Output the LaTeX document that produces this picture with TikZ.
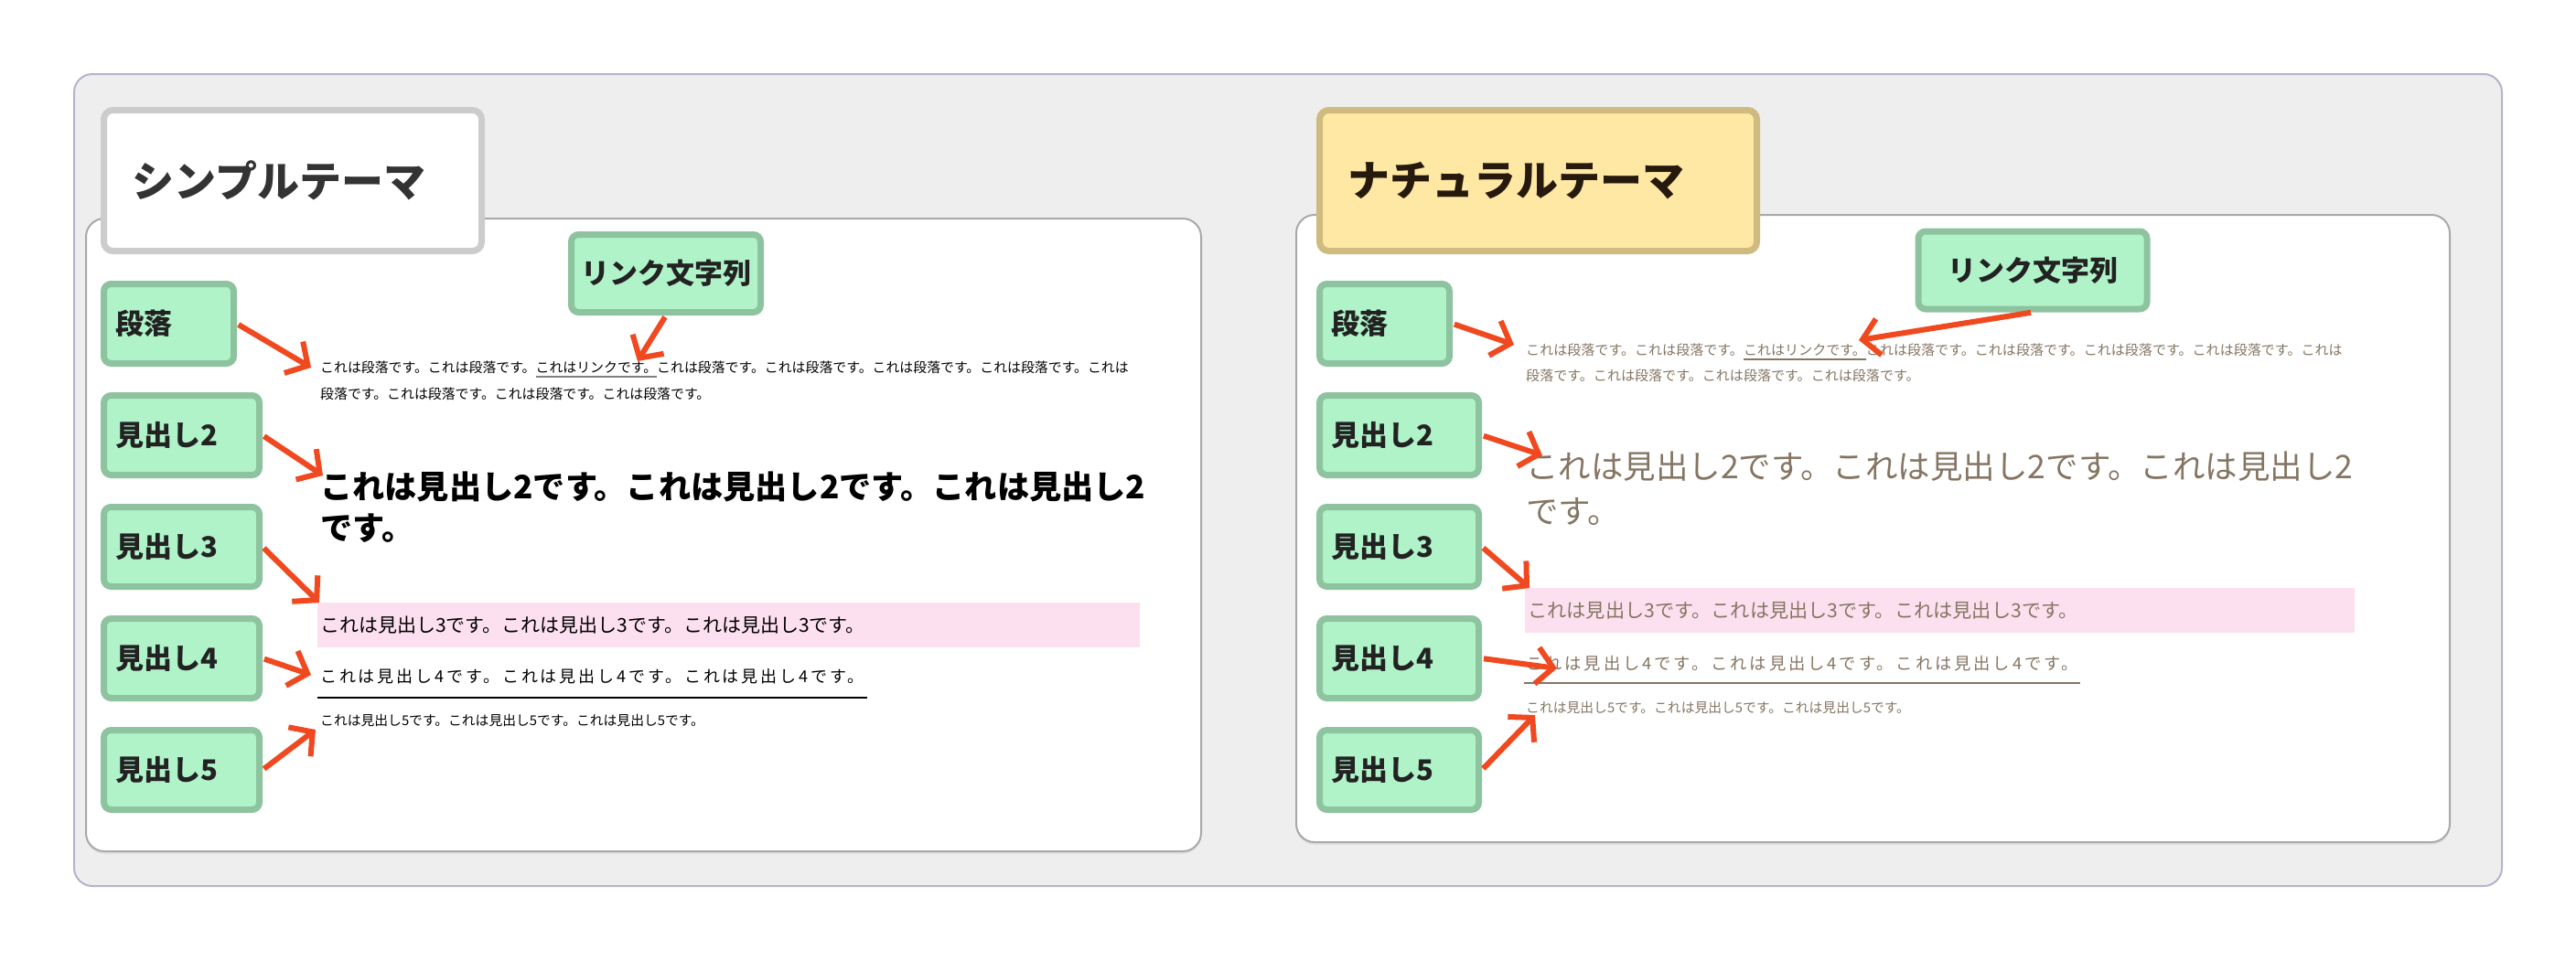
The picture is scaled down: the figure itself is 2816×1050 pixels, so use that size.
\documentclass[tikz,border=0pt]{standalone}
\usepackage{fontspec}
\setmainfont{Noto Sans CJK JP}
\newfontfamily\spacedjp[LetterSpace=16]{Noto Sans CJK JP}
\usetikzlibrary{arrows.meta, positioning, shadows}

\definecolor{frameback}{HTML}{EEEEEE}
\definecolor{frameline}{HTML}{B8B2CC}
\definecolor{panelline}{HTML}{A9A9A9}
\definecolor{simpleedge}{HTML}{CCCCCC}
\definecolor{naturalfill}{HTML}{FFE8A3}
\definecolor{naturaledge}{HTML}{CFBB80}
\definecolor{tagfill}{HTML}{B0F3C9}
\definecolor{tagedge}{HTML}{8EC39F}
\definecolor{tagink}{HTML}{222222}
\definecolor{titleink}{HTML}{333333}
\definecolor{natink}{HTML}{857563}
\definecolor{bandpink}{HTML}{FDE0EF}
\definecolor{pointred}{HTML}{F0481F}

\newsavebox{\lnkbox}
\newcommand{\lnk}[2]{\sbox{\lnkbox}{#2}\rlap{\color{#1}\rule[-5pt]{\wd\lnkbox}{1.5pt}}\usebox{\lnkbox}}

\begin{document}
\begin{tikzpicture}[
    x=1pt, y=-1pt,
    node distance=28pt,
    frame/.style={fill=frameback, draw=frameline, line width=2pt, rounded corners=20pt},
    panel/.style={fill=white, draw=panelline, line width=2pt, rounded corners=20pt, drop shadow={shadow xshift=0pt, shadow yshift=-3pt, opacity=.12}},
    titlebox/.style={rectangle, fill=white, draw=simpleedge, line width=7pt, rounded corners=10pt, inner xsep=31pt, minimum height=154pt, align=left, text=titleink, font=\fontsize{46pt}{54pt}\selectfont\bfseries},
    tag/.style={rectangle, fill=tagfill, draw=tagedge, line width=7pt, rounded corners=8pt, inner xsep=13pt, minimum height=87pt, align=left, text=tagink, font=\fontsize{31pt}{36pt}\selectfont\bfseries},
    linktag/.style={tag, inner xsep=10pt, minimum height=85pt, align=center},
    bodytext/.style={inner sep=0pt, align=left},
    band/.style={rectangle, fill=bandpink, inner xsep=3pt, inner ysep=0pt, minimum height=49pt, align=left},
    pointer/.style={-{Straight Barb[length=18pt, width=40pt]}, line width=6pt, draw=pointred, shorten <=2pt}
]
\useasboundingbox[fill=white] (0,0) rectangle (2816,1050);

\draw[frame] (81,81) rectangle (2735,969);
\draw[panel] (94,239) rectangle (1313,931);
\draw[panel] (1417,235) rectangle (2678,921);

% simple theme
\node[titlebox, anchor=north west, text width=351pt] (titleL) at (110,117) {シンプルテーマ};

\node[tag, anchor=north west, text width=116pt] (gParaL) at (110,307) {段落};
\node[tag, text width=144pt, below=of gParaL.south west, anchor=north west] (gH2L) {見出し2};
\node[tag, text width=144pt, below=of gH2L.south west, anchor=north west] (gH3L) {見出し3};
\node[tag, text width=144pt, below=of gH3L.south west, anchor=north west] (gH4L) {見出し4};
\node[tag, text width=144pt, below=of gH4L.south west, anchor=north west] (gH5L) {見出し5};
\node[linktag, text width=187pt] (gLinkL) at (728,299) {リンク文字列};

\node[bodytext, anchor=base west, font=\fontsize{14.9pt}{29pt}\selectfont] (tParaL) at (350,436.6)
  {これは段落です。これは段落です。\lnk{gray}{これはリンクです。}これは段落です。これは段落です。これは段落です。これは段落です。これは\\
   段落です。これは段落です。これは段落です。これは段落です。};
\node[bodytext, anchor=base west, font=\fontsize{35.2pt}{45pt}\selectfont\bfseries] (tH2L) at (350,590.5)
  {これは見出し2です。これは見出し2です。これは見出し2\\です。};
\node[band, anchor=north west, text width=893pt, font=\fontsize{21pt}{25pt}\selectfont] (tH3L) at (347,659)
  {これは見出し3です。これは見出し3です。これは見出し3です。};
\node[anchor=west, inner xsep=3pt, inner ysep=0pt, minimum height=46pt, font=\spacedjp\fontsize{18pt}{22pt}\selectfont] (tH4L) at (347,740)
  {これは見出し4です。これは見出し4です。これは見出し4です。};
\draw[line width=2pt] (tH4L.south west) -- (tH4L.south east);
\node[bodytext, anchor=west, font=\fontsize{14.8pt}{18pt}\selectfont] (tH5L) at (350,788)
  {これは見出し5です。これは見出し5です。これは見出し5です。};

% natural theme
\node[titlebox, fill=naturalfill, draw=naturaledge, text=black!80!brown, anchor=north west, text width=416pt] (titleR) at (1439,117) {ナチュラルテーマ};

\node[tag, anchor=north west, text width=116pt] (gParaR) at (1439,307) {段落};
\node[tag, text width=148pt, below=of gParaR.south west, anchor=north west] (gH2R) {見出し2};
\node[tag, text width=148pt, below=of gH2R.south west, anchor=north west] (gH3R) {見出し3};
\node[tag, text width=148pt, below=of gH3R.south west, anchor=north west] (gH4R) {見出し4};
\node[tag, text width=148pt, below=of gH4R.south west, anchor=north west] (gH5R) {見出し5};
\node[linktag, text width=230pt] (gLinkR) at (2222,295.5) {リンク文字列};

\node[bodytext, anchor=base west, text=natink, font=\fontsize{15.05pt}{28pt}\selectfont] (tParaR) at (1668,416.7)
  {これは段落です。これは段落です。\lnk{natink}{これはリンクです。}これは段落です。これは段落です。これは段落です。これは段落です。これは\\
   段落です。これは段落です。これは段落です。これは段落です。};
\node[bodytext, anchor=base west, text=natink, font=\fontsize{35.5pt}{49pt}\selectfont] (tH2R) at (1668,572.5)
  {これは見出し2です。これは見出し2です。これは見出し2\\です。};
\node[band, anchor=north west, text width=901pt, text=natink, font=\fontsize{21.2pt}{25pt}\selectfont] (tH3R) at (1667,643)
  {これは見出し3です。これは見出し3です。これは見出し3です。};
\node[anchor=west, inner xsep=2pt, inner ysep=0pt, minimum height=42pt, text=natink, font=\spacedjp\fontsize{18.3pt}{22pt}\selectfont] (tH4R) at (1666,726)
  {これは見出し4です。これは見出し4です。これは見出し4です。};
\draw[line width=2pt, natink] (tH4R.south west) -- (tH4R.south east);
\node[bodytext, anchor=west, text=natink, font=\fontsize{14.8pt}{18pt}\selectfont] (tH5R) at (1668,774)
  {これは見出し5です。これは見出し5です。これは見出し5です。};

\coordinate (aParaL) at (340,402);
\coordinate (aLinkL) at (697,395);
\coordinate (aH2L) at (353,520);
\coordinate (aH3L) at (349,659);
\coordinate (aH4L) at (340,738);
\coordinate (aH5L) at (345,798);
\coordinate (aParaR) at (1655,377);
\coordinate (aLinkR) at (2032,372);
\coordinate (aH2R) at (1686,498);
\coordinate (aH3R) at (1672,643);
\coordinate (aH4R) at (1702,731);
\coordinate (aH5R) at (1678,782);

\draw[pointer] (gParaL.east) -- (aParaL);
\draw[pointer] (gLinkL.south) -- (aLinkL);
\draw[pointer] (gH2L.east) -- (aH2L);
\draw[pointer] (gH3L.east) -- (aH3L);
\draw[pointer] (gH4L.east) -- (aH4L);
\draw[pointer] (gH5L.east) -- (aH5L);
\draw[pointer] (gParaR.east) -- (aParaR);
\draw[pointer] (gLinkR.south) -- (aLinkR);
\draw[pointer] (gH2R.east) -- (aH2R);
\draw[pointer] (gH3R.east) -- (aH3R);
\draw[pointer] (gH4R.east) -- (aH4R);
\draw[pointer] (gH5R.east) -- (aH5R);

\end{tikzpicture}
\end{document}
